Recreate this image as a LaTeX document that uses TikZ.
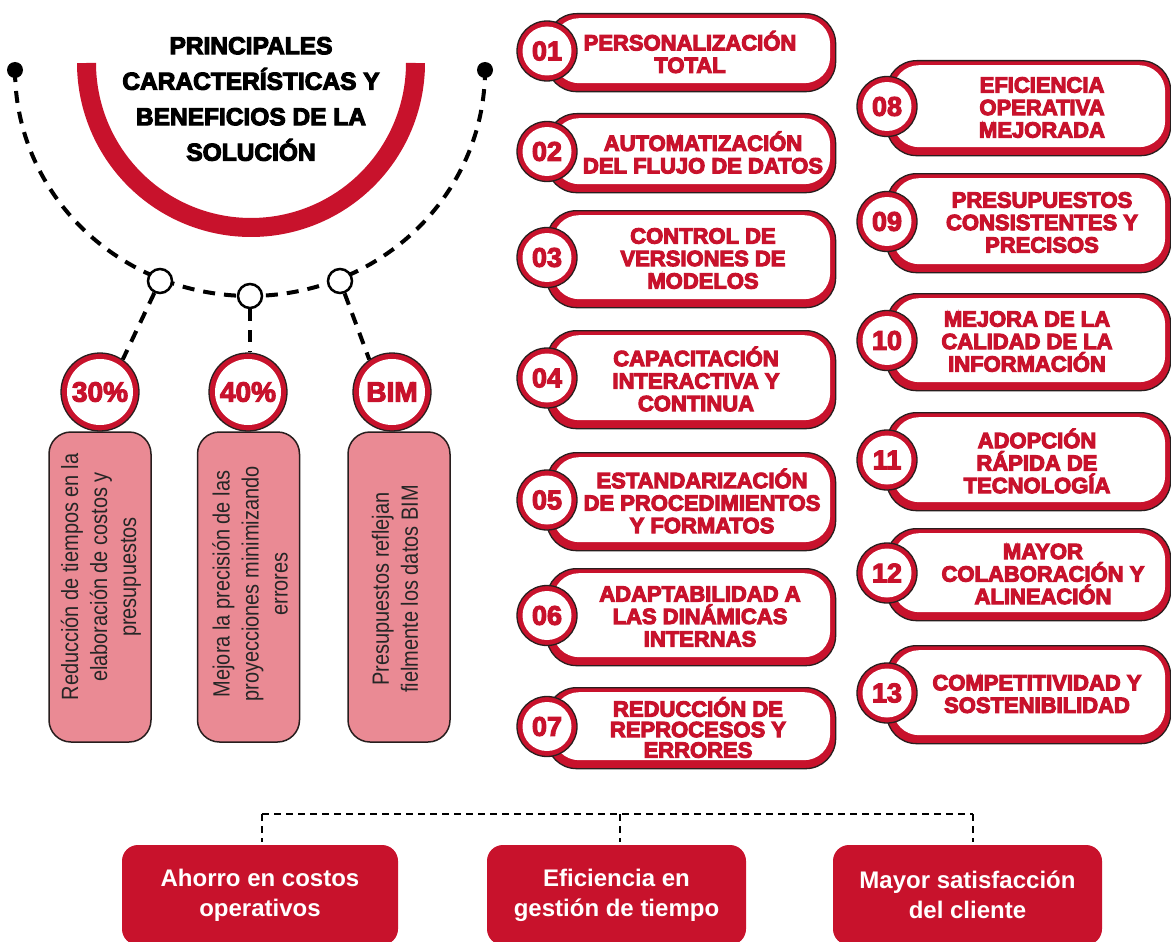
\documentclass[tikz,border=0pt]{standalone}
\usepackage{fontspec}
\setmainfont{Liberation Sans}
\newfontfamily\heavy{Liberation Sans}
\newfontfamily\narrowf[FakeStretch=0.85]{Liberation Sans}
\newcommand\embo{\special{pdf:literal direct 2 Tr 1.1 w}}
\definecolor{myred}{RGB}{200,18,44}
\definecolor{mypink}{RGB}{234,138,148}
\definecolor{myedge}{RGB}{40,30,30}
\newcommand\mkpill[9]{%
  \node[pillout, minimum width={#5-#2}, minimum height={#4-#3}] (#1) at (#2,#3) {};
  \node[pillin, minimum width={#5-#2-12}, minimum height={#4-#3-13}] (#1w) at ([xshift=-6pt,yshift=-5pt]#1.north east) {};
  \node[numout] (#1c) at (#8,{(#3+#4)/2-1}) {};
  \node[numin] (#1n) at (#1c) {#6};
  \node[pilltext] (#1t) at (#9,{(#3+#4)/2}) {#7};
}
\begin{document}
\begin{tikzpicture}[x=1pt,y=-1pt,
  pillout/.style={draw=myedge, line width=1.3pt, fill=myred, rounded corners=30pt, inner sep=0pt, anchor=north west},
  pillin/.style={fill=white, rounded corners=26pt, inner sep=0pt, anchor=north east},
  numout/.style={circle, draw=myedge, line width=1.3pt, fill=myred, minimum size=60pt, inner sep=0pt},
  numin/.style={circle, fill=white, minimum size=49pt, inner sep=0pt, font=\heavy\bfseries\fontsize{27}{27}\selectfont\embo, text=myred},
  pilltext/.style={align=center, font=\heavy\bfseries\fontsize{22}{22.5}\selectfont\embo, text=myred, inner sep=0pt},
  bigdash/.style={draw=black, line width=4pt, dash pattern=on 12pt off 9pt},
  smalldash/.style={draw=black, line width=2pt, dash pattern=on 7pt off 5pt},
  enddot/.style={circle, fill=black, minimum size=16pt, inner sep=0pt},
  hollow/.style={circle, draw=black, line width=2.5pt, fill=white, minimum size=24pt, inner sep=0pt},
  pctout/.style={circle, draw=myedge, line width=1.3pt, fill=myred, minimum size=78pt, inner sep=0pt},
  pctin/.style={circle, fill=white, minimum size=66pt, inner sep=0pt, font=\heavy\bfseries\fontsize{28}{28}\selectfont\embo, text=myred},
  pinkbox/.style={draw=myedge, line width=1.5pt, fill=mypink, rounded corners=22pt, inner sep=0pt},
  pinktext/.style={align=center, rotate=90, font=\narrowf\fontsize{23.5}{29}\selectfont, text=black!85, inner sep=0pt},
  botbox/.style={fill=myred, rounded corners=16pt, align=center, text=white, font=\bfseries\fontsize{24}{30}\selectfont, inner sep=0pt},
  titletext/.style={align=center, font=\heavy\bfseries\fontsize{24.5}{35.5}\selectfont\embo, text=black, inner sep=0pt}
]
\useasboundingbox[fill=white] (0,0) rectangle (1171,942);

% title ring
\draw[myred, line width=19pt] plot[smooth, domain=180:360, samples=120] ({251+164.5*cos(\x)},{63-164.5*sin(\x)});
\node[titletext] (title) at (251,99) {PRINCIPALES\\CARACTERÍSTICAS Y\\BENEFICIOS DE LA\\SOLUCIÓN};

% dashed arc
\draw[bigdash] plot[smooth, domain=180:360, samples=160] ({250+235*cos(\x)},{70-226*sin(\x)});
\node[enddot] (d1) at (15,70) {};
\node[enddot] (d2) at (485,70) {};
\node[hollow] (c1) at (160,281) {};
\node[hollow] (c2) at (250,296) {};
\node[hollow] (c3) at (340,281) {};

% percent circles
\node[pctout] (p30) at (100,392) {};
\node[pctin] (p30i) at (p30) {30\%};
\node[pctout] (p40) at (248,392) {};
\node[pctin] (p40i) at (p40) {40\%};
\node[pctout] (pB) at (392,392) {};
\node[pctin] (pBi) at (pB) {BIM};

\draw[bigdash] (c1) -- (p30.55);
\draw[bigdash] (c2) -- (c2 |- p40.north);
\draw[bigdash] (c3) -- (pB.125);

% pink boxes
\node[pinkbox, minimum width=102pt, minimum height=310pt] (r1) at (100,587) {};
\node[pinkbox, minimum width=102pt, minimum height=310pt] (r2) at (248.5,587) {};
\node[pinkbox, minimum width=102pt, minimum height=310pt] (r3) at (399,587) {};
\node[pinktext] (r1t) at (101,577) {Reducción de tiempos en la\\elaboración de costos y\\presupuestos};
\node[pinktext] (r2t) at (250,584) {Mejora la precisión de las\\proyecciones minimizando\\errores};
\node[pinktext] (r3t) at (395,589) {Presupuestos reflejan\\fielmente los datos BIM};

% left pills
\mkpill{pa}{546}{13}{91}{835}{01}{PERSONALIZACIÓN\\TOTAL}{547}{690}
\mkpill{pb}{546}{113}{192}{835}{02}{AUTOMATIZACIÓN\\DEL FLUJO DE DATOS}{547}{703}
\mkpill{pc}{546}{210}{307}{835}{03}{CONTROL DE\\VERSIONES DE\\MODELOS}{547}{703}
\mkpill{pd}{546}{330}{428}{835}{04}{CAPACITACIÓN\\INTERACTIVA Y\\CONTINUA}{547}{696}
\mkpill{pe}{546}{452}{550}{835}{05}{ESTANDARIZACIÓN\\DE PROCEDIMIENTOS\\Y FORMATOS}{547}{702}
\mkpill{pf}{546}{568}{665}{835}{06}{ADAPTABILIDAD A\\LAS DINÁMICAS\\INTERNAS}{547}{700}
\mkpill{pg}{546}{687}{768}{835}{07}{REDUCCIÓN DE\\[-2pt]REPROCESOS Y\\[-2pt]ERRORES}{547}{698}

% right pills
\mkpill{ph}{886}{60}{155}{1170}{08}{EFICIENCIA\\OPERATIVA\\MEJORADA}{887}{1042}
\mkpill{pi}{886}{173}{272}{1170}{09}{PRESUPUESTOS\\CONSISTENTES Y\\PRECISOS}{887}{1042}
\mkpill{pj}{886}{293}{390}{1170}{10}{MEJORA DE LA\\CALIDAD DE LA\\INFORMACIÓN}{887}{1027}
\mkpill{pk}{886}{412}{510}{1170}{11}{ADOPCIÓN\\RÁPIDA DE\\TECNOLOGÍA}{887}{1037}
\mkpill{pl}{886}{528}{620}{1170}{12}{MAYOR\\COLABORACIÓN Y\\ALINEACIÓN}{887}{1043}
\mkpill{pm}{886}{645}{743}{1170}{13}{COMPETITIVIDAD Y\\SOSTENIBILIDAD}{887}{1037}

% bottom boxes
\node[botbox, minimum width=276pt, minimum height=100pt] (b1) at (260,895) {Ahorro en costos\\operativos};
\node[botbox, minimum width=259pt, minimum height=100pt] (b2) at (616.5,895) {Eficiencia en\\gestión de tiempo};
\node[botbox, minimum width=269pt, minimum height=100pt] (b3) at (967.5,895) {Mayor satisfacción\\del cliente};

\coordinate (hl) at (262,814);
\coordinate (hm) at (620,814);
\coordinate (hr) at (973,814);
\draw[smalldash] (hl) -- (hr);
\draw[smalldash] (hl) -- ([yshift=3pt]hl |- b1.north);
\draw[smalldash] (hm) -- ([yshift=3pt]hm |- b2.north);
\draw[smalldash] (hr) -- ([yshift=3pt]hr |- b3.north);
\end{tikzpicture}
\end{document}
